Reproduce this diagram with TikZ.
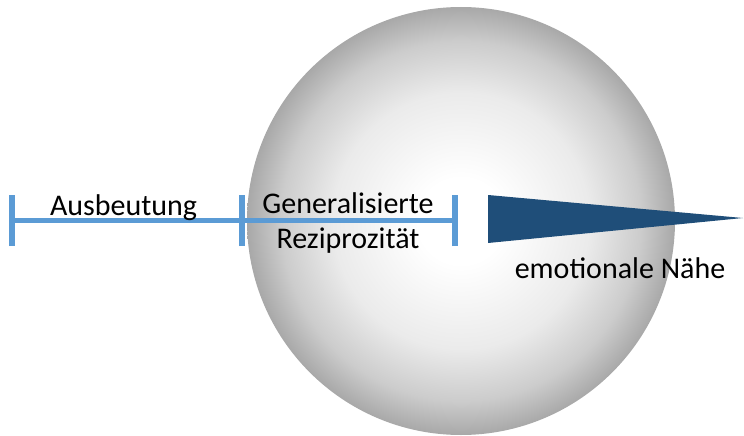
\documentclass[tikz,border=0pt]{standalone}
\usepackage{fontspec}
\setmainfont{Carlito}
\pgfdeclareradialshading{ball}{\pgfpoint{0bp}{0bp}}{color(0bp)=(white); color(5bp)=(white); color(15bp)=(black!8); color(21bp)=(black!20); color(25bp)=(black!34); color(50bp)=(black!34)}
\definecolor{lineblue}{HTML}{5B9BD5}
\definecolor{darkblue}{HTML}{1F4E79}
\begin{document}
\begin{tikzpicture}[x=1pt,y=-1pt,
  tickmark/.style={draw=lineblue,line width=6pt},
  bar/.style={draw=lineblue,line width=5pt},
  lbl/.style={font=\fontsize{30}{35}\selectfont,text=black,inner sep=0pt,align=center,anchor=base}]
\useasboundingbox (0,0) rectangle (744,436);
% sphere
\shade[shading=ball] (461,221) circle [radius=214pt];
% scale line
\coordinate (tL) at (11.5,220);
\coordinate (tM) at (241.5,220);
\coordinate (tR) at (455,220);
\draw[bar] (tL) -- (tR);
\foreach \p in {tL,tM,tR}{
  \draw[tickmark] ([yshift=-26pt]\p) -- ([yshift=25pt]\p);
}
% triangle
\coordinate (a1) at (488,195);
\coordinate (a2) at (488,243);
\coordinate (a3) at (743,218);
\fill[darkblue] (a1) -- (a3) -- (a2) -- cycle;
% labels
\node[lbl] (aus) at (123.5,215) {Ausbeutung};
\node[lbl] (gen) at (348,248) {Generalisierte\\Reziprozität};
\node[lbl] (emo) at (620,278) {emotionale Nähe};
\end{tikzpicture}
\end{document}
